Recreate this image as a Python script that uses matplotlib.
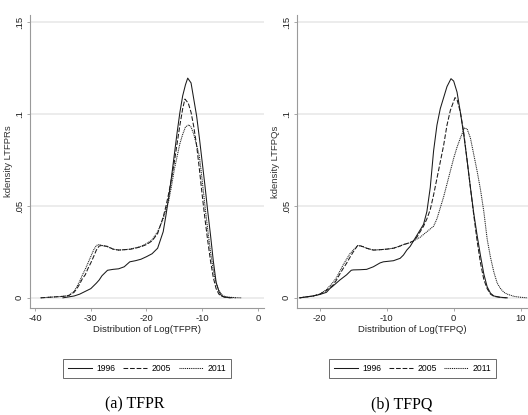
import numpy as np
import matplotlib
matplotlib.use("Agg")
import matplotlib.pyplot as plt

plt.rcParams['font.family'] = ['Liberation Sans Narrow', 'Liberation Sans', 'DejaVu Sans']

# ---- data: TFPR panel ----
tfpr_x_1996 = [-35, -34, -33, -32, -31, -30, -29, -28.5, -28, -27, -26, -25, -24, -23, -22, -21, -20, -19, -18,
               -17, -16.5, -16, -15.5, -15, -14.5, -14, -13.5, -13, -12.6, -12, -11.5, -11, -10.5, -10, -9.5, -9,
               -8.5, -8, -7.5, -7, -6.5, -6, -5]
tfpr_y_1996 = [0, 0.0005, 0.001, 0.002, 0.0035, 0.005, 0.008, 0.0097, 0.012, 0.015, 0.0155, 0.0158, 0.0169, 0.0196,
               0.0202, 0.021, 0.0224, 0.024, 0.027, 0.036, 0.045, 0.055, 0.066, 0.078, 0.090, 0.101, 0.110, 0.116,
               0.1196, 0.117, 0.108, 0.099, 0.087, 0.074, 0.061, 0.047, 0.034, 0.02, 0.0085, 0.0035, 0.001, 0.0004, 0]

tfpr_x_2005 = [-39, -38, -37, -36, -35, -34, -33, -32.5, -32, -31.5, -31, -30.5, -30, -29.5, -29, -28.5, -28, -27,
               -26, -25, -24, -23, -22, -21, -20, -19, -18, -17, -16.5, -16, -15.5, -15, -14.5, -14, -13.5, -13.1,
               -12.5, -12, -11.5, -11, -10.5, -10, -9.5, -9, -8.5, -8, -7.5, -7, -6.5, -6, -5, -4]
tfpr_y_2005 = [0, 0.0002, 0.0004, 0.0006, 0.0008, 0.0012, 0.003, 0.005, 0.0075, 0.0105, 0.0125, 0.016, 0.019,
               0.0224, 0.026, 0.0282, 0.0285, 0.028, 0.0265, 0.026, 0.0262, 0.0264, 0.027, 0.0278, 0.029, 0.031,
               0.035, 0.044, 0.05, 0.057, 0.065, 0.074, 0.084, 0.094, 0.103, 0.1082, 0.106, 0.101, 0.093, 0.083,
               0.07, 0.056, 0.043, 0.031, 0.02, 0.011, 0.005, 0.002, 0.001, 0.0004, 0.0001, 0]

tfpr_x_2011 = [-39, -38, -37, -36, -35, -34, -33, -32.5, -32, -31.5, -31, -30.5, -30, -29.5, -29, -28.5, -28, -27,
               -26, -25, -24, -23, -22, -21, -20, -19, -18, -17, -16.5, -16, -15.5, -15, -14.5, -14, -13.5, -13,
               -12.4, -12, -11.5, -11, -10.5, -10, -9.5, -9, -8.5, -8, -7.5, -7, -6.5, -6, -5, -4, -3]
tfpr_y_2011 = [0, 0.0002, 0.0004, 0.0006, 0.0008, 0.0012, 0.0035, 0.006, 0.009, 0.0125, 0.0155, 0.019, 0.0225,
               0.026, 0.0285, 0.029, 0.0285, 0.0278, 0.0265, 0.026, 0.0262, 0.0265, 0.0272, 0.028, 0.0295, 0.0315,
               0.036, 0.043, 0.048, 0.053, 0.061, 0.07, 0.077, 0.084, 0.089, 0.093, 0.0942, 0.093, 0.089, 0.083,
               0.077, 0.064, 0.05, 0.037, 0.025, 0.015, 0.008, 0.004, 0.0018, 0.0008, 0.0003, 0.0001, 0]

# ---- data: TFPQ panel ----
tfpq_x_1996 = [-23, -22, -21, -20, -19, -18.5, -18, -17, -16, -15.3, -15, -14, -13, -12, -11, -10.5, -10, -9, -8,
               -7.5, -7, -6.5, -6, -5.5, -5, -4.5, -4, -3.5, -3, -2.5, -2, -1.5, -1, -0.4, 0, 0.5, 1, 1.5, 2, 2.5,
               3, 3.5, 4, 4.5, 5, 5.5, 6, 7, 8]
tfpq_y_1996 = [0, 0.0005, 0.001, 0.0018, 0.003, 0.005, 0.0065, 0.0097, 0.0125, 0.015, 0.0152, 0.0153, 0.0155,
               0.0169, 0.019, 0.0196, 0.0198, 0.0202, 0.0215, 0.0233, 0.026, 0.028, 0.031, 0.034, 0.037, 0.040,
               0.047, 0.060, 0.080, 0.094, 0.103, 0.109, 0.115, 0.1193, 0.118, 0.112, 0.101, 0.089, 0.075, 0.060,
               0.046, 0.034, 0.023, 0.013, 0.006, 0.0025, 0.001, 0.0003, 0]

tfpq_x_2005 = [-23, -22, -21, -20, -19, -18, -17.5, -17, -16.5, -16, -15.5, -15, -14.3, -13.5, -13, -12, -11, -10,
               -9, -8, -7.5, -7, -6.3, -6, -5.5, -5, -4.5, -4, -3.5, -3, -2.5, -2, -1.5, -1, -0.5, 0.2, 0.5, 1, 1.5,
               2, 2.5, 3, 3.5, 4, 4.5, 5, 5.5, 6, 7, 8]
tfpq_y_2005 = [0, 0.0005, 0.001, 0.002, 0.004, 0.007, 0.0097, 0.013, 0.016, 0.0188, 0.022, 0.025, 0.0287, 0.0278,
               0.027, 0.026, 0.0262, 0.0265, 0.027, 0.0282, 0.029, 0.0295, 0.0305, 0.031, 0.033, 0.036, 0.039,
               0.043, 0.048, 0.056, 0.065, 0.074, 0.083, 0.094, 0.102, 0.109, 0.108, 0.101, 0.09, 0.075, 0.06,
               0.045, 0.031, 0.019, 0.01, 0.005, 0.002, 0.0008, 0.0002, 0]

tfpq_x_2011 = [-23, -22, -21, -20, -19, -18, -17.5, -17, -16.5, -16, -15.5, -15, -14.3, -13.5, -13, -12, -11, -10,
               -9, -8, -7.5, -7, -6.5, -6, -5.5, -5, -4.5, -4, -3.5, -3, -2.5, -2, -1.5, -1, -0.5, 0, 0.5, 1, 1.6,
               2, 2.5, 3, 3.5, 4, 4.5, 5, 5.5, 6, 6.5, 7, 7.5, 8, 9, 10, 11]
tfpq_y_2011 = [0, 0.0005, 0.001, 0.002, 0.0045, 0.0085, 0.011, 0.0145, 0.018, 0.021, 0.024, 0.026, 0.0285, 0.0278,
               0.027, 0.026, 0.0262, 0.0265, 0.027, 0.0282, 0.029, 0.0295, 0.030, 0.031, 0.032, 0.033, 0.0345,
               0.036, 0.0375, 0.039, 0.043, 0.049, 0.055, 0.062, 0.069, 0.076, 0.082, 0.087, 0.0924, 0.092, 0.087,
               0.078, 0.069, 0.059, 0.047, 0.032, 0.022, 0.014, 0.008, 0.005, 0.003, 0.002, 0.0008, 0.0003, 0]

years = ['1996', '2005', '2011']
yticks = [0, 0.05, 0.1, 0.15]
ytick_labels = ['0', '.05', '.1', '.15']
tfpr_xticks = [-40, -30, -20, -10, 0]
tfpq_xticks = [-20, -10, 0, 10]

styles = [
    dict(linestyle='-'),
    dict(linestyle=(0, (4.5, 1.8))),
    dict(linestyle=(0, (1.0, 0.8))),
]


def draw_panel(ax, xs, ys, xlim, xticks, xlabel, ylabel):
    for x, y, st, lab in zip(xs, ys, styles, years):
        ax.plot(x, y, color='#1a1a1a', lw=0.75, label=lab, **st)
    ax.set_xlim(*xlim)
    ax.set_ylim(-0.0055, 0.154)
    ax.set_yticks(yticks)
    ax.set_yticklabels(ytick_labels, rotation=90, va='center')
    ax.set_xticks(xticks)
    ax.set_xticklabels([str(t) for t in xticks])
    for t in yticks:
        ax.axhline(t, color='#ececec', lw=1.4, zorder=0)
    for s in ['top', 'right']:
        ax.spines[s].set_visible(False)
    for s in ['left', 'bottom']:
        ax.spines[s].set_color('#9a9a9a')
        ax.spines[s].set_linewidth(0.8)
    ax.tick_params(axis='both', length=2.5, width=0.6, color='#9a9a9a', labelsize=6.8,
                   labelcolor='#222222', pad=2)
    ax.set_xlabel(xlabel, fontsize=6.8, color='#222222', labelpad=1)
    ax.set_ylabel(ylabel, fontsize=6.8, color='#333333', labelpad=1,
                  family=['Liberation Sans', 'DejaVu Sans'])
    leg = ax.legend(ncol=3, loc='center', bbox_to_anchor=(0.5, -0.207), fontsize=6.2,
                    handlelength=2.8, columnspacing=0.9, handletextpad=0.5,
                    fancybox=False, borderpad=0.55, frameon=True)
    leg.get_frame().set_edgecolor('#444444')
    leg.get_frame().set_linewidth(0.7)


fig = plt.figure(figsize=(5.28, 4.15), dpi=100)
ax1 = fig.add_axes([0.057, 0.258, 0.443, 0.706])
ax2 = fig.add_axes([0.5625, 0.258, 0.4375, 0.706])

draw_panel(ax1, [tfpr_x_1996, tfpr_x_2005, tfpr_x_2011], [tfpr_y_1996, tfpr_y_2005, tfpr_y_2011],
           (-40.9, 1.1), tfpr_xticks, 'Distribution of Log(TFPR)', 'kdensity LTFPRs')
draw_panel(ax2, [tfpq_x_1996, tfpq_x_2005, tfpq_x_2011], [tfpq_y_1996, tfpq_y_2005, tfpq_y_2011],
           (-23.4, 11.1), tfpq_xticks, 'Distribution of Log(TFPQ)', 'kdensity LTFPQs')

fig.text(0.256, 0.026, '(a) TFPR', ha='center', va='center', fontsize=11.5,
         family=['Liberation Serif', 'DejaVu Serif'])
fig.text(0.761, 0.026, '(b) TFPQ', ha='center', va='center', fontsize=11.5,
         family=['Liberation Serif', 'DejaVu Serif'])

fig.savefig('out.png', dpi=100)
